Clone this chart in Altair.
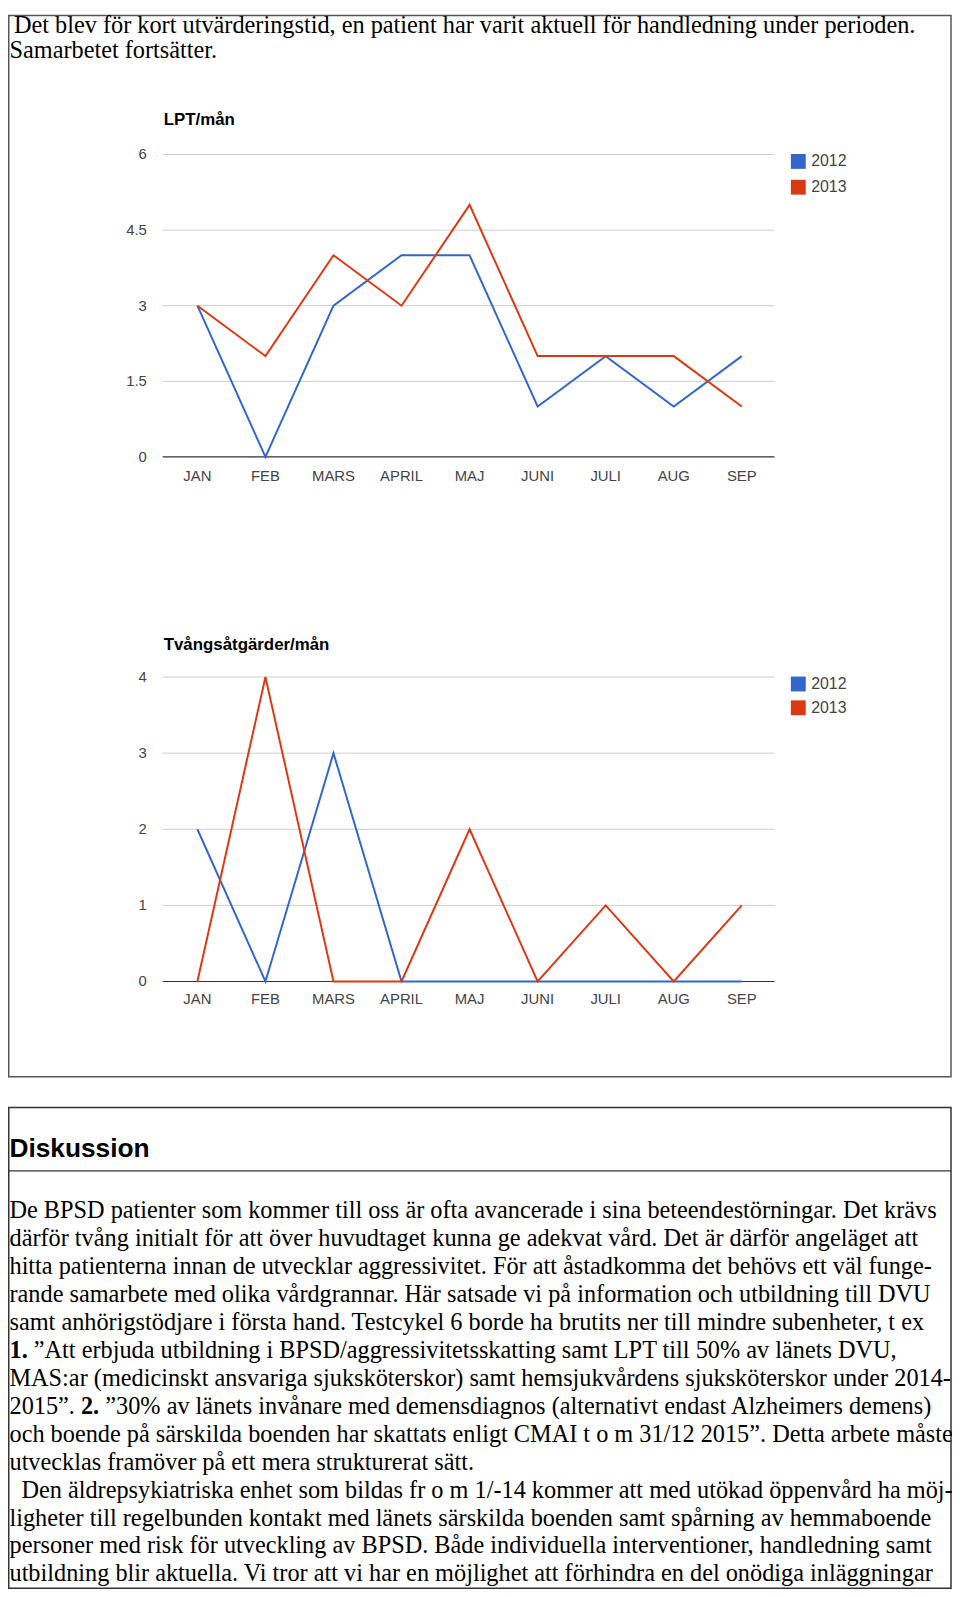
import altair as alt
import pandas as pd

# ---------------- data ----------------
months = ["JAN", "FEB", "MARS", "APRIL", "MAJ", "JUNI", "JULI", "AUG", "SEP"]
years = ["2012", "2013"]
year_colors = ["#3366cc", "#dc3912"]

lpt_2012 = [3, 0, 3, 4, 4, 1, 2, 1, 2]
lpt_2013 = [3, 2, 4, 3, 5, 2, 2, 2, 1]
lpt_ticks = [0, 1.5, 3, 4.5, 6]
lpt_tick_labels = ["0", "1.5", "3", "4.5", "6"]
lpt_title = "LPT/mån"

tvang_2012 = [2, 0, 3, 0, 0, 0, 0, 0, 0]
tvang_2013 = [0, 4, 0, 0, 2, 0, 1, 0, 1]
tvang_ticks = [0, 1, 2, 3, 4]
tvang_tick_labels = ["0", "1", "2", "3", "4"]
tvang_title = "Tvångsåtgärder/mån"

intro_lines = [
    "Det blev för kort utvärderingstid, en patient har varit aktuell för handledning under perioden.",
    "Samarbetet fortsätter.",
]
heading = "Diskussion"
body_lines = [
    "De BPSD patienter som kommer till oss är ofta avancerade i sina beteendestörningar. Det krävs",
    "därför tvång initialt för att över huvudtaget kunna ge adekvat vård. Det är därför angeläget att",
    "hitta patienterna innan de utvecklar aggressivitet. För att åstadkomma det behövs ett väl funge-",
    "rande samarbete med olika vårdgrannar. Här satsade vi på information och utbildning till DVU",
    "samt anhörigstödjare i första hand. Testcykel 6 borde ha brutits ner till mindre subenheter, t ex",
    "",
    "MAS:ar (medicinskt ansvariga sjuksköterskor) samt hemsjukvårdens sjuksköterskor under 2014-",
    "",
    "och boende på särskilda boenden har skattats enligt CMAI t o m 31/12 2015”. Detta arbete måste",
    "utvecklas framöver på ett mera strukturerat sätt.",
    "",
    "ligheter till regelbunden kontakt med länets särskilda boenden samt spårning av hemmaboende",
    "personer med risk för utveckling av BPSD. Både individuella  interventioner, handledning samt",
    "utbildning blir aktuella. Vi tror att vi har en möjlighet att förhindra en del onödiga inläggningar",
]
line6_bold = "1."
line6_rest = "”Att erbjuda utbildning i BPSD/aggressivitetsskatting samt LPT till 50% av länets DVU,"
line8_start = "2015”."
line8_bold = "2."
line8_rest = "”30% av länets invånare med demensdiagnos (alternativt endast Alzheimers demens)"
line11 = "Den äldrepsykiatriska enhet som bildas fr o m 1/-14 kommer att med utökad öppenvård ha möj-"

SERIF = "Liberation Serif"
SANS = "Liberation Sans"
TXT = 24.5
LABEL_COLOR = "#444444"
TX0 = 1.5

# ---------------- helpers ----------------
body_scale = alt.Scale(domain=[0, 13], range=[1214, 1580])
intro_scale = alt.Scale(domain=[0, 1], range=[18, 44])


def text_rows(idx, texts, scale, x, size=TXT, weight="normal", font=SERIF):
    df = pd.DataFrame({"i": idx, "t": texts})
    return alt.Chart(df).mark_text(
        align="left", baseline="alphabetic", font=font, fontSize=size,
        fontWeight=weight, color="black",
    ).encode(
        x=alt.value(x),
        y=alt.Y("i:Q", scale=scale, axis=None),
        text="t:N",
    )


def line_panel(v2012, v2013, ticks, tick_labels, title, ymax, y_range, title_y, xlab_y, leg_range):
    xs = alt.Scale(type="point", domain=months, range=[191, 740], padding=0)
    ys = alt.Scale(domain=[0, ymax], range=y_range)
    df = pd.DataFrame({
        "month": months * 2,
        "year": [years[0]] * len(months) + [years[1]] * len(months),
        "value": v2012 + v2013,
    })
    tick_df = pd.DataFrame({"v": ticks, "lab": tick_labels})
    grid = alt.Chart(tick_df[tick_df.v > 0]).mark_rule(color="#cccccc", strokeWidth=1).encode(
        x=alt.value(156), x2=alt.value(773),
        y=alt.Y("v:Q", scale=ys, axis=None),
    )
    base = alt.Chart(tick_df[tick_df.v == 0]).mark_rule(color="#333333", strokeWidth=1.2).encode(
        x=alt.value(156), x2=alt.value(773),
        y=alt.Y("v:Q", scale=ys, axis=None),
    )
    ylab = alt.Chart(tick_df).mark_text(
        align="right", baseline="middle", font=SANS, fontSize=15, color=LABEL_COLOR,
    ).encode(
        x=alt.value(140),
        y=alt.Y("v:Q", scale=ys, axis=None),
        text="lab:N",
    )
    xlab = alt.Chart(pd.DataFrame({"month": months})).mark_text(
        align="center", baseline="middle", font=SANS, fontSize=15, color=LABEL_COLOR,
    ).encode(
        x=alt.X("month:N", scale=xs, axis=None),
        y=alt.value(xlab_y),
        text="month:N",
    )
    lines = alt.Chart(df).mark_line(strokeWidth=2).encode(
        x=alt.X("month:N", scale=xs, axis=None),
        y=alt.Y("value:Q", scale=ys, axis=None),
        color=alt.Color("year:N", scale=alt.Scale(domain=years, range=year_colors), legend=None),
        order=alt.Order("idx:Q"),
    ).transform_window(idx="row_number()", groupby=["year"])
    ttl = alt.Chart(pd.DataFrame({"t": [title]})).mark_text(
        align="left", baseline="middle", font=SANS, fontSize=17, fontWeight="bold", color="black",
    ).encode(x=alt.value(157), y=alt.value(title_y), text="t:N")
    leg_df = pd.DataFrame({"year": years})
    leg_ys = alt.Scale(type="point", domain=years, range=leg_range, padding=0)
    leg_sq = alt.Chart(leg_df).mark_square(size=225, opacity=1).encode(
        x=alt.value(797),
        y=alt.Y("year:N", scale=leg_ys, axis=None),
        color=alt.Color("year:N", scale=alt.Scale(domain=years, range=year_colors), legend=None),
    )
    leg_tx = alt.Chart(leg_df).mark_text(
        align="left", baseline="middle", font=SANS, fontSize=16, color=LABEL_COLOR,
    ).encode(
        x=alt.value(810),
        y=alt.Y("year:N", scale=leg_ys, axis=None),
        text="year:N",
    )
    return [grid, base, ylab, xlab, lines, ttl, leg_sq, leg_tx]


# ---------------- frames ----------------
frame_df = pd.DataFrame({"k": [0]})
edge = "#555555"
box1 = alt.Chart(frame_df).mark_rect(fillOpacity=0, stroke=edge, strokeWidth=1.5).encode(
    x=alt.value(0.75), x2=alt.value(951), y=alt.value(0.75), y2=alt.value(1071),
)
box2 = alt.Chart(frame_df).mark_rect(fillOpacity=0, stroke="#333333", strokeWidth=1.5).encode(
    x=alt.value(0.75), x2=alt.value(951), y=alt.value(1102), y2=alt.value(1587),
)
divider = alt.Chart(frame_df).mark_rule(color="#333333", strokeWidth=1.5).encode(
    x=alt.value(0.75), x2=alt.value(951), y=alt.value(1166),
)

# ---------------- texts ----------------
intro1 = text_rows([0], [intro_lines[0]], intro_scale, 6)
intro2 = text_rows([1], [intro_lines[1]], intro_scale, TX0)
head = alt.Chart(pd.DataFrame({"t": [heading]})).mark_text(
    align="left", baseline="alphabetic", font=SANS, fontSize=26.5, fontWeight="bold", color="black",
).encode(x=alt.value(TX0), y=alt.value(1152), text="t:N")

body_idx = [i for i, t in enumerate(body_lines) if t]
body_main = text_rows(body_idx, [body_lines[i] for i in body_idx], body_scale, TX0)
b6a = text_rows([5], [line6_bold], body_scale, TX0, weight="bold")
b6b = text_rows([5], [line6_rest], body_scale, TX0 + 24.5)
b8a = text_rows([7], [line8_start], body_scale, TX0)
b8b = text_rows([7], [line8_bold], body_scale, TX0 + 72.1, weight="bold")
b8c = text_rows([7], [line8_rest], body_scale, TX0 + 96.6)
b11 = text_rows([10], [line11], body_scale, TX0 + 12)

# ---------------- charts ----------------
panel1 = line_panel(lpt_2012, lpt_2013, lpt_ticks, lpt_tick_labels, lpt_title, 6,
                    [446, 141], 106, 465, [148, 174])
panel2 = line_panel(tvang_2012, tvang_2013, tvang_ticks, tvang_tick_labels, tvang_title, 4,
                    [975, 668], 636, 993, [675, 699])

layers = [box1, box2, divider, intro1, intro2, head,
          body_main, b6a, b6b, b8a, b8b, b8c, b11] + panel1 + panel2

chart = alt.layer(*layers).resolve_scale(
    x="independent", y="independent", color="independent"
).properties(
    width=952, height=1589, padding=0, autosize="none", background="white"
).configure_view(strokeWidth=0)

chart.save("out.html", embed_options={"renderer": "svg", "actions": False})
